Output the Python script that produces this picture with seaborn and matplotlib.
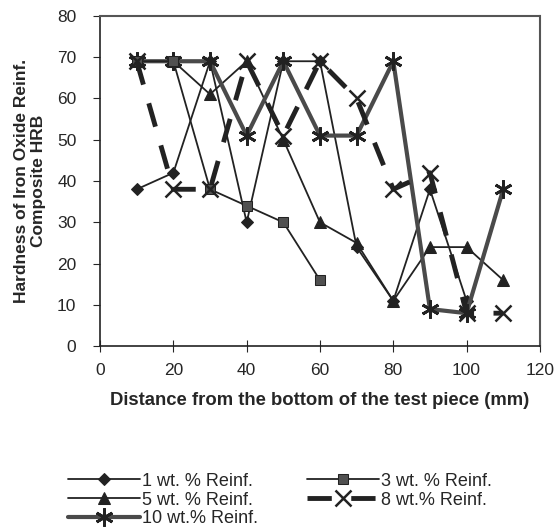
import seaborn as sns
import matplotlib.pyplot as plt
import pandas as pd

sns.set_style("ticks")
plt.rcParams['font.family'] = ['Liberation Sans', 'DejaVu Sans']

# distance from the bottom of the test piece (mm)
dist = [10, 20, 30, 40, 50, 60, 70, 80, 90, 100, 110]

# hardness HRB (None = no point)
wt1 = [38, 42, 69, 30, 69, 69, 24, 11, 38, 11, None]
wt3 = [69, 69, 38, 34, 30, 16, None, None, None, None, None]
wt5 = [69, 69, 61, 69, 50, 30, 25, 11, 24, 24, 16]
wt8 = [69, 38, 38, 69, 51, 69, 60, 38, 42, 8, 8]
wt10 = [69, 69, 69, 51, 69, 51, 51, 69, 9, 8, 38]

labels = ["1 wt. % Reinf.", "5 wt. % Reinf.", "10 wt.% Reinf.",
          "3 wt. % Reinf.", "8 wt.% Reinf."]
series = [wt1, wt5, wt10, wt3, wt8]

ink = "#222222"
styles = {
    "1 wt. % Reinf.": dict(marker="D", markersize=6, lw=1.3, color=ink, mec=ink, linestyle="-"),
    "5 wt. % Reinf.": dict(marker="^", markersize=8, lw=1.3, color=ink, mec=ink, linestyle="-"),
    "10 wt.% Reinf.": dict(marker=(6, 2, 0), markersize=13, mew=2.0, lw=3.0, color="#4a4a4a",
                           mec=ink, linestyle="-"),
    "3 wt. % Reinf.": dict(marker="s", markersize=7, lw=1.3, color=ink, mec=ink, linestyle="-",
                           markerfacecolor="#505050"),
    "8 wt.% Reinf.": dict(marker="x", markersize=11, mew=1.8, lw=3.5, color=ink, mec=ink,
                          linestyle=(0, (5, 4))),
}

fig, ax = plt.subplots(figsize=(5.56, 5.27), dpi=100)
fig.subplots_adjust(left=0.18, right=0.971, top=0.97, bottom=0.343)

for lab, vals in zip(labels, series):
    df = pd.DataFrame({"x": dist, "y": vals}).dropna()
    sns.lineplot(data=df, x="x", y="y", ax=ax, label=lab, **styles[lab])

ax.set_xlim(0, 120)
ax.set_ylim(0, 80)
ax.set_xticks(range(0, 121, 20))
ax.set_yticks(range(0, 81, 10))
ax.tick_params(axis="x", direction="inout", length=8, labelsize=12.5, pad=8)
ax.tick_params(axis="y", direction="out", length=5, labelsize=12.5, pad=12)

for side in ["top", "right"]:
    ax.spines[side].set_linestyle((0, (1, 1)))
    ax.spines[side].set_color("#555555")
    ax.spines[side].set_linewidth(1.5)
for side in ["left", "bottom"]:
    ax.spines[side].set_color(ink)
    ax.spines[side].set_linewidth(1.2)

ax.set_xlabel("Distance from the bottom of the test piece (mm)", fontsize=13.3,
              fontweight="bold", labelpad=10)
ax.set_ylabel("Hardness of Iron Oxide Reinf.\nComposite HRB", fontsize=12.5,
              fontweight="bold", labelpad=8)

ax.legend(loc="upper left", bbox_to_anchor=(0.10, 0.127), bbox_transform=fig.transFigure,
          ncol=2, frameon=False, fontsize=13, handlelength=4.0, handletextpad=0.1,
          labelspacing=0.1, columnspacing=2.7, borderpad=0.2)

fig.savefig("out.png", dpi=100)
